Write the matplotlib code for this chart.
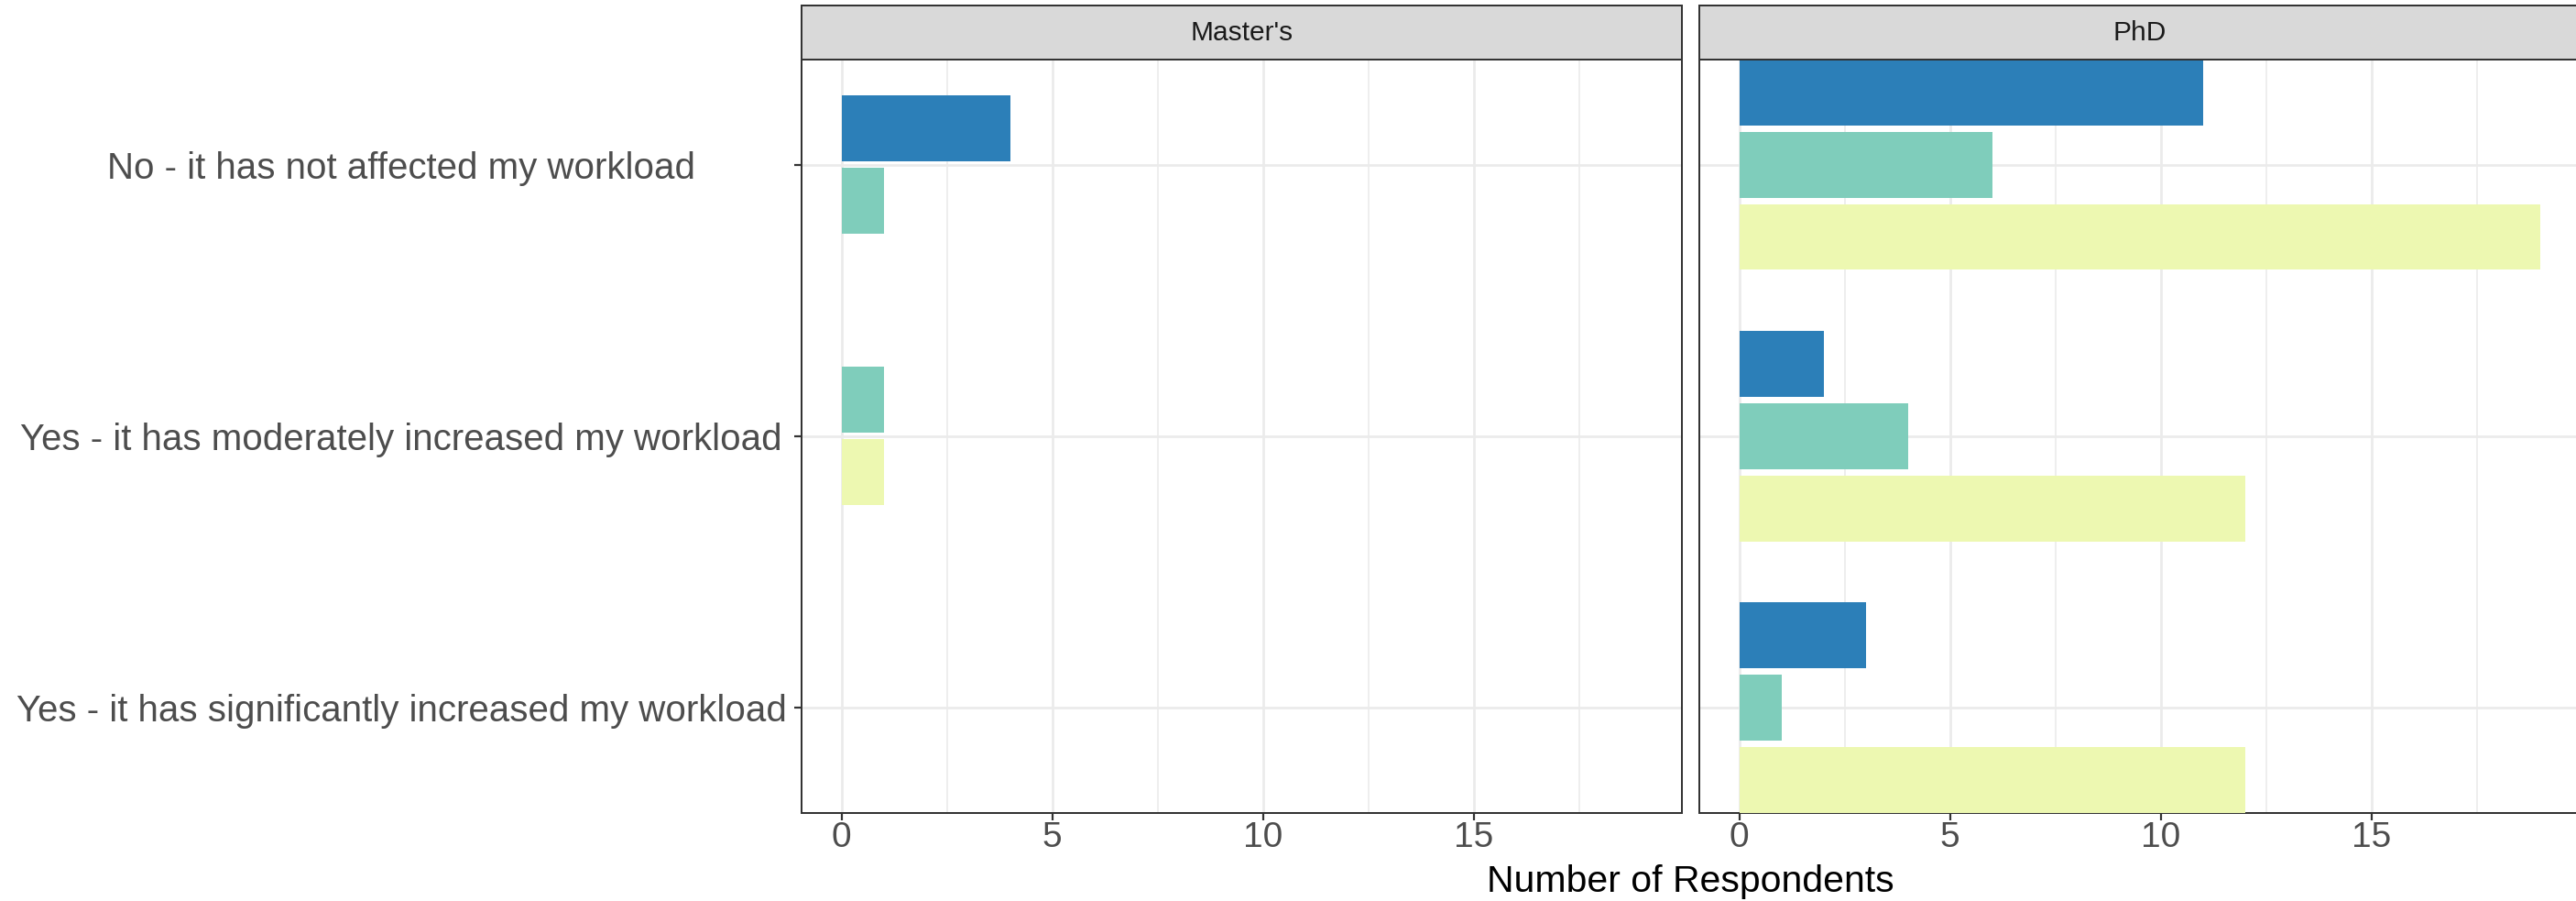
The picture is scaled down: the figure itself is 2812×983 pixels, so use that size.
import numpy as np
import matplotlib.pyplot as plt
from matplotlib.patches import Rectangle

plt.rcParams['font.family'] = ['Liberation Sans', 'DejaVu Sans']

# Datos
categorias = ["No - it has not affected my workload",
              "Yes - it has moderately increased my workload",
              "Yes - it has significantly increased my workload"]
paneles = ["Master's", "PhD"]
colores = ['#2c7fb8', '#7fcdbb', '#edf8b1']

# una lista por serie (None = sin respuestas)
master_azul = [4, None, None]
master_verde = [1, 1, None]
master_amarillo = [None, 1, None]
phd_azul = [11, 2, 3]
phd_verde = [6, 4, 1]
phd_amarillo = [19, 12, 12]

datos = {"Master's": [master_azul, master_verde, master_amarillo],
         "PhD": [phd_azul, phd_verde, phd_amarillo]}

# Geometria (pixeles de la figura)
W, H = 2812, 983
dpi = 100
fig = plt.figure(figsize=(W / dpi, H / dpi), dpi=dpi)

px = 72 / dpi  # puntos por pixel
alto_barra = 0.243
paso = 0.266
mitad = paso + alto_barra / 2

todos = [v for p in paneles for s in datos[p] for v in s if v is not None]
xmax = max(todos)
xlim = (-0.05 * xmax, xmax * 1.05)

ancho_panel = 961.4
izq = {"Master's": 875, "PhD": 1855}
top, bottom = 65, 886.7
strip_top = 6

for nombre in paneles:
    x0 = izq[nombre]
    ax = fig.add_axes([x0 / W, (H - bottom) / H, ancho_panel / W, (bottom - top) / H])
    series = datos[nombre]
    for i in range(len(categorias)):
        presentes = [k for k in range(3) if series[k][i] is not None]
        n = len(presentes)
        for j, k in enumerate(presentes):
            off = (j - (n - 1) / 2) * paso
            ax.barh(i + off, series[k][i], height=alto_barra, color=colores[k], zorder=3)

    ax.set_xlim(*xlim)
    ax.set_ylim(len(categorias) - 1 + mitad, -mitad)
    ax.set_xticks([0, 5, 10, 15])
    ax.set_xticks([2.5, 7.5, 12.5, 17.5], minor=True)
    ax.set_yticks(range(len(categorias)))
    ax.grid(True, which='major', color='#ebebeb', lw=2.7 * px, zorder=0)
    ax.grid(True, which='minor', axis='x', color='#ebebeb', lw=1.6 * px, zorder=0)
    ax.tick_params(axis='x', which='major', length=8 * px, width=2.2 * px, color='#333333',
                   labelsize=28, labelcolor='#4d4d4d', pad=1)
    ax.tick_params(which='minor', length=0)
    for s in ax.spines.values():
        s.set_color('#333333')
        s.set_linewidth(2 * px)

    if nombre == "Master's":
        ax.set_yticklabels(categorias)
        ax.tick_params(axis='y', length=8 * px, width=2.2 * px, color='#333333',
                       labelsize=29, labelcolor='#4d4d4d', pad=429 * px)
        for lab in ax.get_yticklabels():
            lab.set_horizontalalignment('center')
    else:
        ax.tick_params(axis='y', length=0, labelleft=False)

    # franja del facet
    strip = fig.add_axes([x0 / W, (H - top) / H, ancho_panel / W, (top - strip_top) / H])
    strip.set_facecolor('#d9d9d9')
    strip.set_xticks([])
    strip.set_yticks([])
    for s in strip.spines.values():
        s.set_color('#333333')
        s.set_linewidth(2 * px)
    strip.text(0.5, 0.5, nombre, ha='center', va='center', fontsize=21.5, color='#1a1a1a',
               transform=strip.transAxes)

fig.text((875 + 1855 + ancho_panel) / 2 / W, 1 - 973 / H, 'Number of Respondents',
         ha='center', va='baseline', fontsize=29.5, color='black')

fig.savefig('out.png', dpi=dpi)
